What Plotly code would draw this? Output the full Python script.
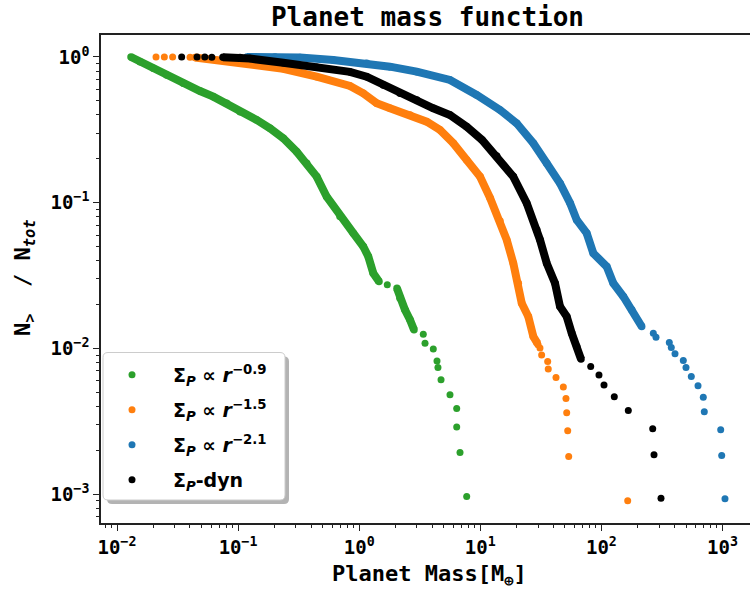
import plotly.graph_objects as go

# ---------------- data ----------------
# dense, continuous strands of points (None separates strands)
green_curve_mass = [0.01305, 0.01549, 0.01995, 0.0257, 0.03527, 0.04846, 0.0624, 0.0805, 0.1037, 0.1424,
                    0.1834, 0.2361, 0.3047, 0.3685, 0.4457, 0.539, 0.694, 0.894, 1.081, 1.189, 1.307, 1.457,
                    None, 2.052, 2.172, 2.389, 2.628, 2.835]
green_curve_frac = [1.0, 0.929, 0.837, 0.752, 0.660, 0.584, 0.534, 0.481, 0.4215, 0.370,
                    0.324, 0.277, 0.224, 0.1866, 0.151, 0.110, 0.0803, 0.0618, 0.050, 0.0427, 0.0328, 0.0288,
                    None, 0.02584, 0.02213, 0.01839, 0.01571, 0.01341]
green_dots_mass = [1.706, 3.383, 3.495, 4.092, 4.39, 4.47, 4.74, 5.62, 6.385, 6.385, 6.80, 7.72]
green_dots_frac = [0.0273, 0.01253, 0.01087, 0.00989, 0.0082, 0.0074, 0.0061, 0.0048, 0.00387, 0.00289,
                   0.00193, 0.000963]

orange_curve_mass = [0.04406, 0.0666, 0.1254, 0.2361, 0.4457, 0.8396, 1.081, 1.395, 1.796, 2.628, 3.609,
                     4.647, 5.984, 7.722, 9.943, 12.03, 14.54, 16.52, 18.73, 20.6, 21.98, 24.91, 27.40, 29.56]
orange_curve_frac = [0.992, 0.954, 0.905, 0.830, 0.7325, 0.6326, 0.5637, 0.4813, 0.4446, 0.4001, 0.3599,
                     0.3157, 0.2559, 0.1965, 0.151, 0.1079, 0.075, 0.0556, 0.03846, 0.02804, 0.02045,
                     0.01655, 0.01207, 0.01087]
orange_dots_mass = [0.0210, 0.0246, 0.0288, 0.0401, 29.96, 31.1, 32.1, 36.0, 36.4, 42.2, 48.5, 51.0,
                    51.7, 52.7, 53.7, 164.9]
orange_dots_frac = [1.0, 0.999, 0.998, 0.997, 0.01058, 0.01005, 0.0090, 0.00813, 0.00721, 0.00632,
                    0.00543, 0.00453, 0.00362, 0.00272, 0.00181, 0.000901]

blue_curve_mass = [0.1184, 0.2017, 0.3244, 0.611, 1.153, 1.796, 2.985, 5.62, 9.34, 14.54, 19.98, 27.40,
                   35.35, 45.51, 55.05, 62.52, 75.6, 85.76, 110.6, 125.4, 151.7, 177.9, 215.2]
blue_curve_frac = [1.0, 0.998, 0.993, 0.954, 0.905, 0.858, 0.793, 0.6956, 0.5488, 0.4331, 0.3509, 0.2559,
                   0.1866, 0.136, 0.0997, 0.0762, 0.0618, 0.045, 0.03645, 0.02804, 0.0227, 0.01839, 0.01413]
blue_dots_mass = [268.4, 282.4, 363.7, 377.7, 405.3, 474.7, 499.6, 552.6, 627.8, 694.2, 707.5, 966.3,
                  984.9, 1048.6]
blue_dots_frac = [0.01273, 0.01195, 0.01098, 0.01014, 0.00918, 0.00826, 0.0074, 0.00642, 0.00554,
                  0.00463, 0.00367, 0.00277, 0.00184, 0.00093]

black_curve_mass = [0.0750, 0.1037, 0.1254, 0.2361, 0.4457, 0.8396, 1.153, 1.581, 2.172, 2.985, 4.092,
                    5.62, 7.722, 10.33, 13.66, 18.73, 24.16, 29.23, 31.12, 35.35, 41.40, 45.51, 51.7,
                    56.85, 62.52, 67.87]
black_curve_frac = [0.995, 0.99, 0.975, 0.912, 0.850, 0.790, 0.7325, 0.6427, 0.5637, 0.5071, 0.4446,
                    0.4001, 0.3326, 0.2696, 0.2094, 0.151, 0.0992, 0.0651, 0.0556, 0.03846, 0.02804,
                    0.01939, 0.01655, 0.01273, 0.0103, 0.00845]
black_dots_mass = [0.0342, 0.0458, 0.0531, 0.0607, 81.6, 95.5, 105.1, 127.8, 166.8, 265.3, 271.9, 310.6]
black_dots_frac = [1.0, 0.999, 0.998, 0.997, 0.00751, 0.00656, 0.0056, 0.00466, 0.00375, 0.00281,
                   0.00186, 0.000937]

series_names = ["Σ<sub><i>P</i></sub> ∝ <i>r</i><sup>−0.9</sup>",
                "Σ<sub><i>P</i></sub> ∝ <i>r</i><sup>−1.5</sup>",
                "Σ<sub><i>P</i></sub> ∝ <i>r</i><sup>−2.1</sup>",
                "Σ<sub><i>P</i></sub>-dyn"]

x_tick_vals = [0.01, 0.1, 1, 10, 100, 1000]
x_tick_text = ["10<sup>−2</sup>", "10<sup>−1</sup>", "10<sup>0</sup>", "10<sup>1</sup>",
               "10<sup>2</sup>", "10<sup>3</sup>"]
y_tick_vals = [0.001, 0.01, 0.1, 1]
y_tick_text = ["10<sup>−3</sup>", "10<sup>−2</sup>", "10<sup>−1</sup>", "10<sup>0</sup>"]

# ---------------- figure ----------------
colors = ["#2ca02c", "#ff7f0e", "#1f77b4", "#000000"]
data = [
    (green_curve_mass, green_curve_frac, green_dots_mass, green_dots_frac),
    (orange_curve_mass, orange_curve_frac, orange_dots_mass, orange_dots_frac),
    (blue_curve_mass, blue_curve_frac, blue_dots_mass, blue_dots_frac),
    (black_curve_mass, black_curve_frac, black_dots_mass, black_dots_frac),
]

W, H = 750, 594
ML, MR, MT, MB = 101, 0, 35, 71
PW, PH = W - ML - MR, H - MT - MB


def px_x(p):
    return (p - ML) / PW


def px_y(p):
    return (H - MB - p) / PH


legend_ids = ["legend", "legend2", "legend3", "legend4"]
legend_rows_px = [375, 410, 445, 480]

fig = go.Figure()
for i, (cm, cf, dm, df) in enumerate(data):
    fig.add_trace(go.Scatter(x=cm, y=cf, mode="lines+markers", connectgaps=False,
                             line=dict(color=colors[i], width=8),
                             marker=dict(color=colors[i], size=7.5, line=dict(width=0)),
                             showlegend=False, hoverinfo="skip"))
    fig.add_trace(go.Scatter(x=dm, y=df, mode="markers",
                             marker=dict(color=colors[i], size=7, line=dict(width=0)),
                             name=series_names[i], legend=legend_ids[i]))


def rounded(x0, y0, x1, y1, r):
    # pixel coordinates -> paper path with rounded corners
    rx, ry = r / PW, r / PH
    a, b, c, d = px_x(x0), px_y(y0), px_x(x1), px_y(y1)  # a<c, b>d (top > bottom)
    return (f"M{a+rx},{b} L{c-rx},{b} Q{c},{b} {c},{b-ry} L{c},{d+ry} Q{c},{d} {c-rx},{d} "
            f"L{a+rx},{d} Q{a},{d} {a},{d+ry} L{a},{b-ry} Q{a},{b} {a+rx},{b} Z")


shapes = [
    dict(type="path", xref="paper", yref="paper", path=rounded(107, 356.5, 289, 504, 5),
         fillcolor="rgba(128,128,128,0.6)", line=dict(width=0), layer="above"),
    dict(type="path", xref="paper", yref="paper", path=rounded(103, 352.5, 285, 500, 5),
         fillcolor="white", line=dict(color="#cccccc", width=1), layer="above"),
]

minor_x = [m * 10 ** e for e in range(-3, 4) for m in range(2, 10)]
minor_y = [m * 10 ** e for e in range(-4, 1) for m in range(2, 10)]

mono_bold = dict(family="DejaVu Sans Mono", size=19, color="black", weight="bold")
legend_font = dict(family="DejaVu Sans", size=19, color="black", weight="bold")

legends = {}
for lid, ypx in zip(legend_ids, legend_rows_px):
    legends[lid] = dict(x=px_x(91), y=px_y(ypx), xanchor="left", yanchor="middle",
                        bgcolor="rgba(0,0,0,0)", borderwidth=0, itemwidth=72, font=legend_font)

fig.update_layout(
    width=W, height=H,
    margin=dict(l=ML, r=MR, t=MT, b=MB, autoexpand=False),
    paper_bgcolor="white", plot_bgcolor="white",
    title=dict(text="Planet mass function", x=427.5 / W, xref="container", xanchor="center",
               y=1 - 16.4 / H, yref="container", yanchor="middle",
               font=dict(family="DejaVu Sans Mono", size=26, color="black", weight="bold")),
    shapes=shapes,
    showlegend=True,
    xaxis=dict(type="log", range=[-2.1321, 3.2271], showgrid=False, zeroline=False,
               showline=True, linecolor="#222", linewidth=1.5, mirror=True,
               ticks="outside", ticklen=6, tickwidth=1.3, tickcolor="#222",
               tickvals=x_tick_vals, ticktext=x_tick_text, tickfont=mono_bold,
               minor=dict(tickvals=minor_x, ticks="outside", ticklen=3.5, tickwidth=1, tickcolor="#222",
                          showgrid=False)),
    yaxis=dict(type="log", range=[-3.1982, 0.1509], showgrid=False, zeroline=False,
               showline=True, linecolor="#222", linewidth=1.5, mirror=False,
               ticks="outside", ticklen=6, tickwidth=1.3, tickcolor="#222",
               tickvals=y_tick_vals, ticktext=y_tick_text, tickfont=mono_bold,
               minor=dict(tickvals=minor_y, ticks="outside", ticklen=3.5, tickwidth=1, tickcolor="#222",
                          showgrid=False)),
    annotations=[
        dict(text="Planet Mass[M<sub>⊕</sub>]", xref="paper", yref="paper",
             x=px_x(429.5), y=px_y(575), xanchor="center", yanchor="middle", showarrow=False,
             font=dict(family="DejaVu Sans Mono", size=22, color="black", weight="bold")),
        dict(text="N<sub>&gt;</sub>\u00a0\u00a0/ N<sub><i>tot</i></sub>", xref="paper", yref="paper",
             x=px_x(24), y=px_y(278), xanchor="center", yanchor="middle", textangle=-90,
             showarrow=False,
             font=dict(family="DejaVu Sans Mono", size=22, color="black", weight="bold")),
    ],
    **legends,
)

fig.write_html("out.html")
